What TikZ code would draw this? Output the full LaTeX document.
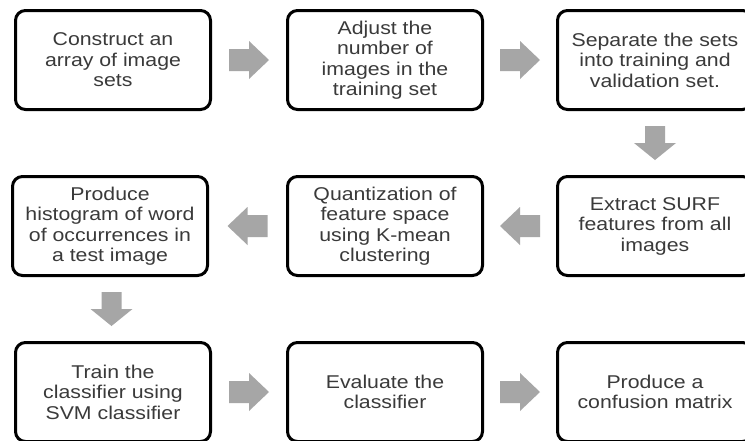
\documentclass[tikz,border=0pt]{standalone}
\usepackage{fontspec}
\setmainfont{Liberation Sans}[FakeStretch=1.15]
\usetikzlibrary{calc}
\definecolor{arrowgray}{HTML}{A6A6A6}
\definecolor{textgray}{HTML}{3A3A3A}
\tikzset{
  stepbox/.style={draw=black, line width=3pt, rounded corners=10pt, fill=white,
    minimum width=195pt, minimum height=99pt, align=center, inner sep=2pt,
    text=textgray, font=\fontsize{18.5}{20.5}\selectfont},
  pics/rarr/.style={code={
    \fill[arrowgray] (-20pt,-11pt) -- (0pt,-11pt) -- (0pt,-19pt) -- (20pt,0pt)
      -- (0pt,19pt) -- (0pt,11pt) -- (-20pt,11pt) -- cycle;}},
  pics/darr/.style={code={
    \fill[arrowgray] (-10pt,17pt) -- (10pt,17pt) -- (10pt,0pt) -- (21pt,0pt)
      -- (0pt,-17pt) -- (-21pt,0pt) -- (-10pt,0pt) -- cycle;}}
}
\begin{document}
\begin{tikzpicture}[x=1pt,y=1pt]
\useasboundingbox (0,0) rectangle (745,-440);
\fill[white] (0,0) rectangle (745,-440);
\begin{scope}
\clip (0,0) rectangle (745,-440);
\node[stepbox] (b1) at (113,-60) {Construct an\\array of image\\sets};
\node[stepbox] (b2) at (385,-60) {Adjust the\\number of\\images in the\\training set};
\node[stepbox] (b3) at (655,-60) {Separate the sets\\into training and\\validation set.};
\node[stepbox] (b4) at (110,-226) {Produce\\histogram of word\\of occurrences in\\a test image};
\node[stepbox] (b5) at (385,-226) {Quantization of\\feature space\\using K-mean\\clustering};
\node[stepbox] (b6) at (655,-226) {Extract SURF\\features from all\\images};
\node[stepbox] (b7) at (113,-392) {Train the\\classifier using\\SVM classifier};
\node[stepbox] (b8) at (385,-392) {Evaluate the\\classifier};
\node[stepbox] (b9) at (655,-392) {Produce a\\confusion matrix};
\pic at ($(b1.east)!0.5!(b2.west)$) {rarr};
\pic at ($(b2.east)!0.5!(b3.west)$) {rarr};
\pic at ($(b3.south)!0.5!(b6.north)$) {darr};
\pic[rotate=180] at ($(b6.west)!0.5!(b5.east)$) {rarr};
\pic[rotate=180] at ($(b5.west)!0.5!(b4.east)$) {rarr};
\pic at ($(b4.south)!0.5!(b7.north)$) {darr};
\pic at ($(b7.east)!0.5!(b8.west)$) {rarr};
\pic at ($(b8.east)!0.5!(b9.west)$) {rarr};
\end{scope}
\end{tikzpicture}
\end{document}
